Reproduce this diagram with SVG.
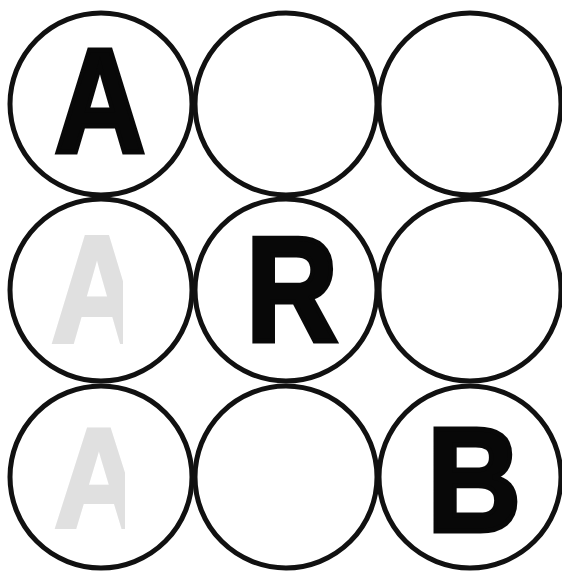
<svg xmlns="http://www.w3.org/2000/svg" width="562" height="571" viewBox="0 0 562 571">
  <style>
    .ring { fill: #ffffff; stroke: #111111; stroke-width: 5; }
    .big { font-family: "Liberation Sans", Arial, sans-serif; font-weight: bold; font-size: 148px; text-anchor: middle; fill: #080808; stroke: #080808; stroke-width: 5; stroke-linejoin: miter; }
    .faint { fill: #e0e0e0; stroke: #e0e0e0; stroke-width: 4; }
  </style>
  <defs>
    <clipPath id="clipA2"><rect x="40" y="225" width="83" height="125"/></clipPath>
    <clipPath id="clipA3"><rect x="40" y="420" width="85" height="115"/></clipPath>
  </defs>
  <rect width="562" height="571" fill="#ffffff"/>

  <g id="c11">
    <circle class="ring" cx="101" cy="104" r="91"/>
    <text class="big" transform="translate(100,152) scale(0.85,1)">A</text>
  </g>
  <g id="c12">
    <circle class="ring" cx="286" cy="104" r="91"/>
  </g>
  <g id="c13">
    <circle class="ring" cx="470" cy="104" r="91"/>
  </g>

  <g id="c21">
    <circle class="ring" cx="101" cy="290" r="91"/>
    <g clip-path="url(#clipA2)">
      <text class="big faint" transform="translate(97,342) scale(0.86,1.03)">A</text>
    </g>
  </g>
  <g id="c22">
    <circle class="ring" cx="286" cy="290" r="91"/>
    <text class="big" transform="translate(292,341) scale(0.86,1)">R</text>
  </g>
  <g id="c23">
    <circle class="ring" cx="470" cy="290" r="91"/>
  </g>

  <g id="c31">
    <circle class="ring" cx="101" cy="477" r="91"/>
    <g clip-path="url(#clipA3)">
      <text class="big faint" transform="translate(99,527) scale(0.84,0.95)">A</text>
    </g>
  </g>
  <g id="c32">
    <circle class="ring" cx="286" cy="477" r="91"/>
  </g>
  <g id="c33">
    <circle class="ring" cx="470" cy="477" r="91"/>
    <text class="big" transform="translate(474,531) scale(0.88,1)">B</text>
  </g>

  <g id="connectors"/>
</svg>
